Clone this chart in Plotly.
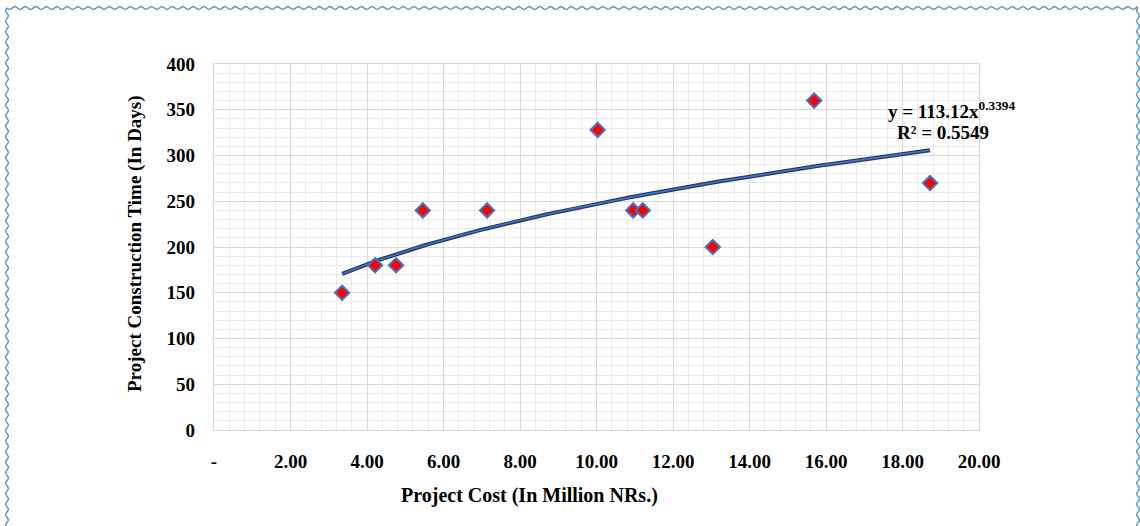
import numpy as np
import plotly.graph_objects as go

# Data
project_cost = [3.35, 4.21, 4.76, 5.46, 7.14, 10.03, 10.96, 11.21, 13.04, 15.69, 18.72]
construction_days = [150, 180, 180, 240, 240, 328, 240, 240, 200, 360, 270]
trend_a = 113.12
trend_b = 0.3394
r_squared = 0.5549
x_tick_vals = [0, 2, 4, 6, 8, 10, 12, 14, 16, 18, 20]
x_tick_text = ["-", "2.00", "4.00", "6.00", "8.00", "10.00", "12.00", "14.00", "16.00", "18.00", "20.00"]
y_tick_vals = [0, 50, 100, 150, 200, 250, 300, 350, 400]

W, H = 1140, 526
ML, MR, MT, MB = 214, 161, 64, 96
PW, PH = W - ML - MR, H - MT - MB

def px(xp):
    return (xp - ML) / PW

def py(yp):
    return 1 - (yp - MT) / PH

FONT = "Liberation Serif"

fig = go.Figure()

xs = np.linspace(min(project_cost), max(project_cost), 200)
ys = trend_a * xs ** trend_b
fig.add_trace(go.Scatter(x=xs, y=ys, mode="lines",
                         line=dict(color="#1F3864", width=4), hoverinfo="skip", showlegend=False))
fig.add_trace(go.Scatter(x=xs, y=ys, mode="lines",
                         line=dict(color="#4472C4", width=1.6), hoverinfo="skip", showlegend=False))
fig.add_trace(go.Scatter(x=project_cost, y=construction_days, mode="markers",
                         marker=dict(symbol="diamond", size=11, color="#FF0000",
                                     line=dict(color="#4472C4", width=2)),
                         showlegend=False))

# wavy decorative border
def wave_path(x0, y0, x1, y1, period=10.5, amp=1.4):
    length = np.hypot(x1 - x0, y1 - y0)
    n = int(length / 1.5) + 2
    t = np.linspace(0, 1, n)
    dx, dy = (x1 - x0) / length, (y1 - y0) / length
    nx, ny = -dy, dx
    s = t * length
    off = amp * np.sin(2 * np.pi * s / period)
    X = x0 + dx * s + nx * off
    Y = y0 + dy * s + ny * off
    pts = [f"{px(a):.5f},{py(b):.5f}" for a, b in zip(X, Y)]
    return "M" + " L".join(pts)

shapes = []
for seg in [(7, 8, 1138, 8), (7, 8, 7, 540), (1138, 8, 1138, 540)]:
    shapes.append(dict(type="path", path=wave_path(*seg), xref="paper", yref="paper",
                       line=dict(color="#4A90BF", width=1.3), layer="above"))

def ann(text, x, y, size, angle=0):
    return dict(text=text, xref="paper", yref="paper", x=px(x), y=py(y),
                xanchor="center", yanchor="middle", textangle=angle, showarrow=False,
                font=dict(family=FONT, size=size, color="black"))

fig.update_layout(
    width=W, height=H,
    margin=dict(l=ML, r=MR, t=MT, b=MB),
    paper_bgcolor="white", plot_bgcolor="white",
    font=dict(family=FONT, color="black"),
    showlegend=False,
    shapes=shapes,
    xaxis=dict(range=[0, 20], tickvals=x_tick_vals, ticktext=x_tick_text,
               showgrid=True, gridcolor="#D9D9D9", gridwidth=1.3,
               minor=dict(dtick=0.4, showgrid=True, gridcolor="#EBEBEB", gridwidth=1),
               showline=True, linecolor="#D9D9D9", linewidth=1.3, mirror=True,
               zeroline=False, ticks="", ticklabelstandoff=14,
               tickfont=dict(family=FONT, size=19, color="black", weight="bold")),
    yaxis=dict(range=[0, 400], tickvals=y_tick_vals,
               showgrid=True, gridcolor="#D9D9D9", gridwidth=1.3,
               minor=dict(dtick=10, showgrid=True, gridcolor="#EBEBEB", gridwidth=1),
               showline=True, linecolor="#D9D9D9", linewidth=1.3, mirror=True,
               zeroline=False, ticks="", ticklabelstandoff=14,
               tickfont=dict(family=FONT, size=19, color="black", weight="bold")),
    annotations=[
        ann("<b>Project Cost (In Million NRs.)</b>", 529, 495, 20),
        ann("<b>Project Construction Time (In Days)</b>", 135, 244, 19, -90),
        ann(f"<b>y = {trend_a:.2f}x<sup>{trend_b}</sup></b>", 951, 110, 19),
        ann(f"<b>R² = {r_squared}</b>", 943, 132, 19),
    ],
)

fig.write_html("out.html", config={"displayModeBar": False},
               post_script="document.body.style.margin='0';document.body.style.padding='0';")
